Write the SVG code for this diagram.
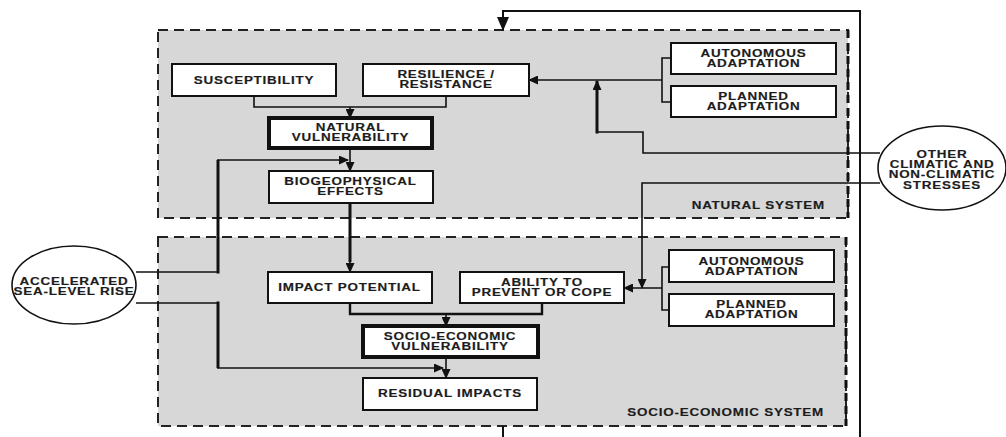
<svg xmlns="http://www.w3.org/2000/svg" width="1006" height="437" viewBox="0 0 1006 437">
<defs>
<marker id="ah" markerUnits="userSpaceOnUse" markerWidth="10" markerHeight="9" refX="9" refY="4.5" orient="auto" viewBox="0 0 10 9">
<path d="M0,0 L10,4.5 L0,9 z" fill="#111"/>
</marker>
<marker id="ahBig" markerUnits="userSpaceOnUse" markerWidth="14" markerHeight="12" refX="13" refY="6" orient="auto" viewBox="0 0 14 12">
<path d="M0,0 L14,6 L0,12 z" fill="#111"/>
</marker>
</defs>
<style>
.panel{fill:#d7d7d7;stroke:#222;stroke-width:2;stroke-dasharray:10 6}
.panelR{stroke:#111;stroke-width:3;stroke-dasharray:8 5;fill:none}
.box{fill:#fff;stroke:#111;stroke-width:2}
.boxT{fill:#fff;stroke:#111;stroke-width:4}
.ell{fill:#fff;stroke:#111;stroke-width:1.6}
.t{font-family:"Liberation Sans",Arial,sans-serif;font-weight:bold;font-size:10.5px;letter-spacing:0.6px;fill:#1c1c1c;stroke:#1c1c1c;stroke-width:0.15;text-anchor:middle}
.te{font-family:"Liberation Sans",Arial,sans-serif;font-weight:bold;font-size:10.5px;letter-spacing:0.6px;fill:#1c1c1c;stroke:#1c1c1c;stroke-width:0.15;text-anchor:end}
.c{fill:none;stroke:#111;stroke-width:1.6}
.ck{fill:none;stroke:#111;stroke-width:3}
</style>

<g id="natural-system">
<rect class="panel" x="158" y="30" width="690" height="188"/>
<line class="panelR" x1="848" y1="30" x2="848" y2="218"/>
<text class="te" transform="translate(825,209) scale(1.28,1)">NATURAL SYSTEM</text>
</g>
<g id="socio-economic-system">
<rect class="panel" x="158" y="237" width="688" height="189"/>
<line class="panelR" x1="846" y1="237" x2="846" y2="426"/>
<text class="te" transform="translate(824,416) scale(1.28,1)">SOCIO-ECONOMIC SYSTEM</text>
</g>

<g id="connectors">
<polyline class="c" style="stroke-width:2" points="503,437 503,426"/>
<polyline class="c" style="stroke-width:2" points="860,437 860,11 503,11 503,30" marker-end="url(#ahBig)"/>
<polyline class="c" points="254,96 254,107 446,107 446,96"/>
<line class="c" x1="350" y1="107" x2="350" y2="118" marker-end="url(#ah)"/>
<line class="c" x1="350" y1="150" x2="350" y2="171" marker-end="url(#ah)"/>
<polyline class="c" points="671,58 662,58 662,102 671,102"/>
<line class="c" x1="662" y1="80" x2="529" y2="80" marker-end="url(#ah)"/>
<polyline class="c" points="880,153 643,153 643,132 597,132"/>
<line class="ck" x1="597" y1="133.5" x2="597" y2="81" marker-end="url(#ah)"/>
<polyline class="c" points="880,183 642,183 642,288" marker-end="url(#ah)"/>
<polyline class="c" points="136,272 218,272"/>
<line class="ck" x1="218" y1="273.5" x2="218" y2="160"/>
<line class="c" x1="217" y1="160" x2="348" y2="160" marker-end="url(#ah)"/>
<line class="ck" x1="350" y1="203" x2="350" y2="262"/>
<line class="c" x1="350" y1="260" x2="350" y2="272" marker-end="url(#ah)"/>
<polyline class="c" points="136,303 218,303"/>
<line class="ck" x1="218" y1="301.5" x2="218" y2="368"/>
<line class="c" x1="217" y1="368" x2="443" y2="368" marker-end="url(#ah)"/>
<polyline class="c" style="stroke-width:2.4" points="350,303 350,314 542,314 542,303"/>
<line class="c" x1="446" y1="314" x2="446" y2="326" marker-end="url(#ah)"/>
<line class="c" x1="446" y1="359" x2="446" y2="378" marker-end="url(#ah)"/>
<polyline class="c" points="669,267 662,267 662,310 669,310"/>
<line class="c" x1="662" y1="288" x2="624" y2="288" marker-end="url(#ah)"/>
</g>

<g id="susceptibility">
<rect class="box" x="172" y="64" width="164" height="32"/>
<text class="t" transform="translate(254,83.8) scale(1.28,1)">SUSCEPTIBILITY</text>
</g>
<g id="resilience">
<rect class="box" x="363" y="64" width="166" height="32"/>
<text class="t" transform="translate(446,77.5) scale(1.28,1)"><tspan x="0">RESILIENCE /</tspan><tspan x="0" dy="11">RESISTANCE</tspan></text>
</g>
<g id="natural-vulnerability">
<rect class="boxT" x="269" y="118" width="163" height="30"/>
<text class="t" transform="translate(350.5,130.5) scale(1.28,1)"><tspan x="0">NATURAL</tspan><tspan x="0" dy="10.5">VULNERABILITY</tspan></text>
</g>
<g id="biogeophysical-effects">
<rect class="box" x="269" y="171" width="164" height="32"/>
<text class="t" transform="translate(350.5,184.8) scale(1.28,1)"><tspan x="0">BIOGEOPHYSICAL</tspan><tspan x="0" dy="10.5">EFFECTS</tspan></text>
</g>
<g id="nat-autonomous">
<rect class="box" x="671" y="43" width="165" height="31"/>
<text class="t" transform="translate(753.5,56.8) scale(1.28,1)"><tspan x="0">AUTONOMOUS</tspan><tspan x="0" dy="10.5">ADAPTATION</tspan></text>
</g>
<g id="nat-planned">
<rect class="box" x="671" y="86" width="165" height="31"/>
<text class="t" transform="translate(753.5,99.5) scale(1.28,1)"><tspan x="0">PLANNED</tspan><tspan x="0" dy="10.5">ADAPTATION</tspan></text>
</g>
<g id="other-stresses">
<ellipse class="ell" cx="942" cy="168" rx="64" ry="42"/>
<text class="t" transform="translate(942,157.5) scale(1.28,1)"><tspan x="0">OTHER</tspan><tspan x="0" dy="10.5">CLIMATIC AND</tspan><tspan x="0" dy="10.5">NON-CLIMATIC</tspan><tspan x="0" dy="10.5">STRESSES</tspan></text>
</g>
<g id="sea-level-rise">
<ellipse class="ell" cx="74" cy="285" rx="62" ry="39"/>
<text class="t" transform="translate(74,284.5) scale(1.28,1)"><tspan x="0">ACCELERATED</tspan><tspan x="0" dy="11">SEA-LEVEL RISE</tspan></text>
</g>
<g id="impact-potential">
<rect class="box" x="268" y="272" width="164" height="31"/>
<text class="t" transform="translate(349.5,291.3) scale(1.28,1)">IMPACT POTENTIAL</text>
</g>
<g id="ability">
<rect class="box" x="460" y="272" width="164" height="31"/>
<text class="t" transform="translate(542,285.5) scale(1.28,1)"><tspan x="0">ABILITY TO</tspan><tspan x="0" dy="10.5">PREVENT OR COPE</tspan></text>
</g>
<g id="socio-economic-vulnerability">
<rect class="boxT" x="363" y="326" width="175" height="31"/>
<text class="t" transform="translate(450,339.5) scale(1.28,1)"><tspan x="0">SOCIO-ECONOMIC</tspan><tspan x="0" dy="10.5">VULNERABILITY</tspan></text>
</g>
<g id="residual-impacts">
<rect class="box" x="363" y="378" width="174" height="32"/>
<text class="t" transform="translate(450,397) scale(1.28,1)">RESIDUAL IMPACTS</text>
</g>
<g id="soc-autonomous">
<rect class="box" x="669" y="250" width="165" height="32"/>
<text class="t" transform="translate(751.5,264.8) scale(1.28,1)"><tspan x="0">AUTONOMOUS</tspan><tspan x="0" dy="10.5">ADAPTATION</tspan></text>
</g>
<g id="soc-planned">
<rect class="box" x="669" y="294" width="165" height="32"/>
<text class="t" transform="translate(751.5,307.8) scale(1.28,1)"><tspan x="0">PLANNED</tspan><tspan x="0" dy="10.5">ADAPTATION</tspan></text>
</g>
</svg>
